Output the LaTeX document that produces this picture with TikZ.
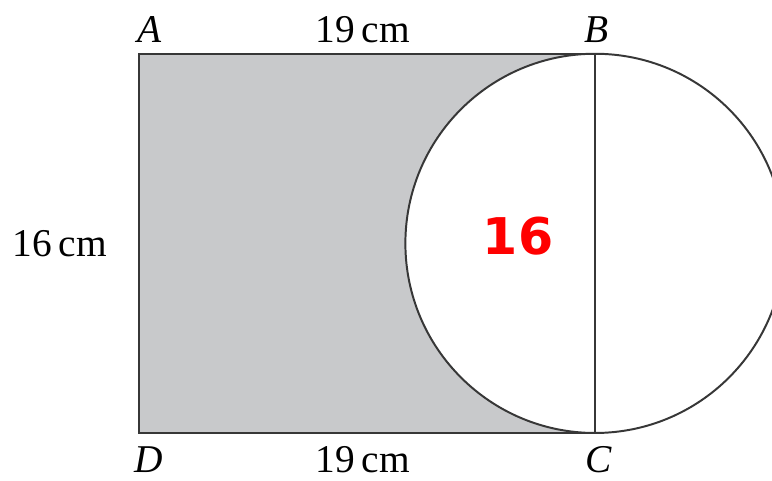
\documentclass[tikz,border=0pt]{standalone}
\usepackage{fontspec}
\setmainfont{Liberation Serif}
\newfontfamily\handfont{DejaVu Sans}
\definecolor{regiongray}{RGB}{200,201,203}
\definecolor{ink}{RGB}{55,55,55}
\begin{document}
\begin{tikzpicture}[
    x=0.6cm, y=0.6cm,
    edge/.style={draw=ink, line width=1.4pt},
    lbl/.style={inner sep=0pt, font=\fontsize{28}{32}\selectfont},
    corner/.style={lbl, font=\fontsize{28}{32}\selectfont\itshape},
]
    % Page frame (the circle runs past the right edge)
    \useasboundingbox (-5.79,-1.96) rectangle (26.375,18.04);
    \clip (-5.79,-1.96) rectangle (26.375,18.04);

    % Corners of the rectangle
    \coordinate (D) at (0,0);
    \coordinate (C) at (19,0);
    \coordinate (B) at (19,15.8);
    \coordinate (A) at (0,15.8);
    \coordinate (O) at (19,7.9);

    % Shaded rectangle, with the circle cut out
    \fill[regiongray] (D) rectangle (B);
    \fill[white] (O) circle[radius=7.9];

    % Outline
    \draw[edge] (B) -- (A) -- (D) -- (C);
    \draw[edge] (B) -- (C);
    \draw[edge] (O) circle[radius=7.9];

    % Corner labels
    \node[corner] (lA) at (0.42,16.8) {A};
    \node[corner] (lB) at (19.08,16.8) {B};
    \node[corner] (lC) at (19.17,-1.1) {C};
    \node[corner] (lD) at (0.42,-1.1) {D};

    % Side lengths
    \node[lbl] (top) at (9.33,16.8) {19\,cm};
    \node[lbl] (bottom) at (9.33,-1.1) {19\,cm};
    \node[lbl] (side) at (-3.29,7.9) {16\,cm};

    % Handwritten note
    \node[inner sep=0pt, red, font=\handfont\bfseries\fontsize{36}{36}\selectfont] (note) at (15.8,8.2) {16};
\end{tikzpicture}
\end{document}
